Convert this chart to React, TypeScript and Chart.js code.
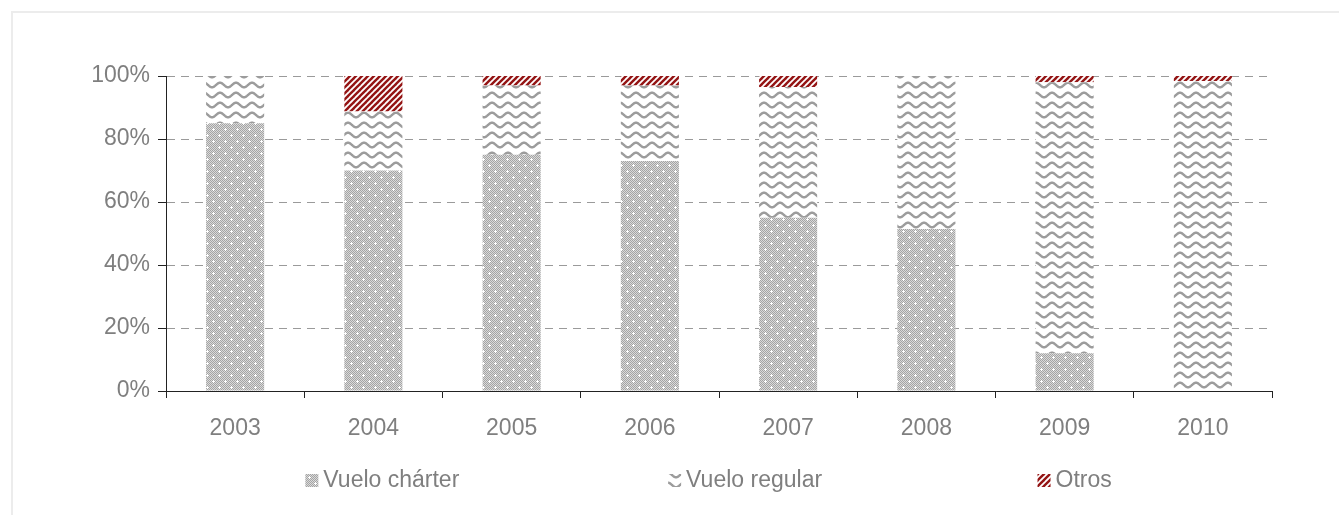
import React, { useEffect, useRef } from "react";
import { Chart, registerables } from "chart.js";

Chart.register(...registerables);

const categories = ["2003", "2004", "2005", "2006", "2007", "2008", "2009", "2010"];
const seriesNames = ["Vuelo chárter", "Vuelo regular", "Otros"];
const charter = [85, 70, 75, 73, 55, 51.4, 12, 0];
const regular = [15, 18.7, 22, 24, 41.5, 48.6, 86, 98.4];
const otros = [0, 11.3, 3, 3, 3.5, 0, 2, 1.6];
const yTicks = [0, 20, 40, 60, 80, 100];

const FONT = "'Liberation Sans', Arial, sans-serif";
const TEXT = "#7f7f7f";
const AXIS = "#222222";
const FS = 23;

function makeCharter(ctx: CanvasRenderingContext2D) {
  const c = document.createElement("canvas");
  c.width = 12;
  c.height = 12;
  const g = c.getContext("2d")!;
  for (let y = 0; y < 12; y++) {
    for (let x = 0; x < 12; x++) {
      g.fillStyle = (x + y) % 2 === 0 ? "#a4a4a4" : "#dadada";
      g.fillRect(x, y, 1, 1);
    }
  }
  g.fillStyle = "#ffffff";
  const plus = (cx: number, cy: number) => {
    g.fillRect(cx, cy, 1, 1);
    g.fillRect(cx - 1, cy, 1, 1);
    g.fillRect(cx + 1, cy, 1, 1);
    g.fillRect(cx, cy - 1, 1, 1);
    g.fillRect(cx, cy + 1, 1, 1);
  };
  plus(3, 3);
  plus(9, 9);
  return ctx.createPattern(c, "repeat")!;
}

function makeWave(ctx: CanvasRenderingContext2D) {
  const c = document.createElement("canvas");
  c.width = 16;
  c.height = 10;
  const g = c.getContext("2d")!;
  g.fillStyle = "#ffffff";
  g.fillRect(0, 0, 16, 10);
  g.strokeStyle = "#9c9c9c";
  g.lineWidth = 2.4;
  for (const off of [-10, 0, 10]) {
    g.beginPath();
    for (let x = -1; x <= 17; x += 0.5) {
      const y = 5 + off + 2.3 * Math.sin((2 * Math.PI * x) / 16);
      if (x === -1) g.moveTo(x, y);
      else g.lineTo(x, y);
    }
    g.stroke();
  }
  return ctx.createPattern(c, "repeat")!;
}

function makeStripe(ctx: CanvasRenderingContext2D) {
  const c = document.createElement("canvas");
  c.width = 6;
  c.height = 6;
  const g = c.getContext("2d")!;
  g.fillStyle = "#ffffff";
  g.fillRect(0, 0, 6, 6);
  g.strokeStyle = "#941414";
  g.lineWidth = 2.4;
  for (const off of [-6, 0, 6]) {
    g.beginPath();
    g.moveTo(off - 1, 7);
    g.lineTo(off + 7, -1);
    g.stroke();
  }
  return ctx.createPattern(c, "repeat")!;
}

const legendPlugin = {
  id: "customLegend",
  afterDraw(chart: any) {
    const ctx = chart.ctx as CanvasRenderingContext2D;
    const ca = chart.chartArea;
    const fr = [0.126, 0.454, 0.788];
    const yc = ca.bottom + 89;
    ctx.save();
    ctx.font = `${FS}px ${FONT}`;
    ctx.textBaseline = "middle";
    ctx.fillStyle = TEXT;
    chart.data.datasets.forEach((ds: any, i: number) => {
      const x = ca.left + fr[i] * (ca.right - ca.left);
      ctx.fillStyle = ds.backgroundColor;
      ctx.fillRect(x, yc - 6, 13, 13);
      ctx.fillStyle = TEXT;
      ctx.fillText(ds.label, x + 18, yc + 1);
    });
    ctx.restore();
  },
};

export default function App() {
  const ref = useRef<HTMLCanvasElement>(null);
  useEffect(() => {
    const canvas = ref.current!;
    const ctx = canvas.getContext("2d")!;
    const chart = new Chart(canvas, {
      type: "bar",
      data: {
        labels: categories,
        datasets: [
          { label: seriesNames[0], data: charter, backgroundColor: makeCharter(ctx) as any },
          { label: seriesNames[1], data: regular, backgroundColor: makeWave(ctx) as any },
          { label: seriesNames[2], data: otros, backgroundColor: makeStripe(ctx) as any },
        ],
      },
      options: {
        responsive: false,
        animation: false,
        devicePixelRatio: 1,
        layout: { padding: { left: 0, right: 67, top: 76, bottom: 0 } },
        datasets: { bar: { categoryPercentage: 1, barPercentage: 0.42, borderWidth: 0 } },
        plugins: { legend: { display: false }, tooltip: { enabled: false } },
        scales: {
          x: {
            stacked: true,
            grid: {
              display: true,
              drawOnChartArea: false,
              drawTicks: true,
              tickLength: 7,
              offset: true,
              color: AXIS,
              tickColor: AXIS,
            },
            border: { display: true, color: AXIS, width: 1 },
            ticks: { color: TEXT, font: { family: FONT, size: FS }, padding: 17, maxRotation: 0 },
            afterFit: (s: any) => {
              s.height = 124;
            },
          },
          y: {
            stacked: true,
            min: 0,
            max: 100,
            afterBuildTicks: (s: any) => {
              s.ticks = yTicks.map((v) => ({ value: v }));
            },
            grid: {
              color: "#9a9a9a",
              tickColor: AXIS,
              tickLength: 8,
              tickBorderDash: [],
              lineWidth: 1,
            },
            border: { display: true, color: AXIS, width: 1, dash: [8, 6] },
            ticks: {
              color: TEXT,
              font: { family: FONT, size: FS },
              padding: 8,
              callback: (v: any) => `${v}%`,
            },
            afterFit: (s: any) => {
              s.width = 166;
            },
          },
        },
      },
      plugins: [legendPlugin],
    });
    return () => chart.destroy();
  }, []);
  return (
    <div
      style={{
        position: "fixed",
        left: 0,
        top: 0,
        width: 1339,
        height: 515,
        overflow: "hidden",
        background: "#ffffff",
      }}
    >
      <div
        style={{
          position: "absolute",
          left: 11,
          top: 11,
          width: 1400,
          height: 600,
          border: "2px solid #ececec",
        }}
      />
      <canvas
        ref={ref}
        width={1339}
        height={515}
        style={{ position: "absolute", left: 0, top: 0, width: 1339, height: 515 }}
      />
    </div>
  );
}
